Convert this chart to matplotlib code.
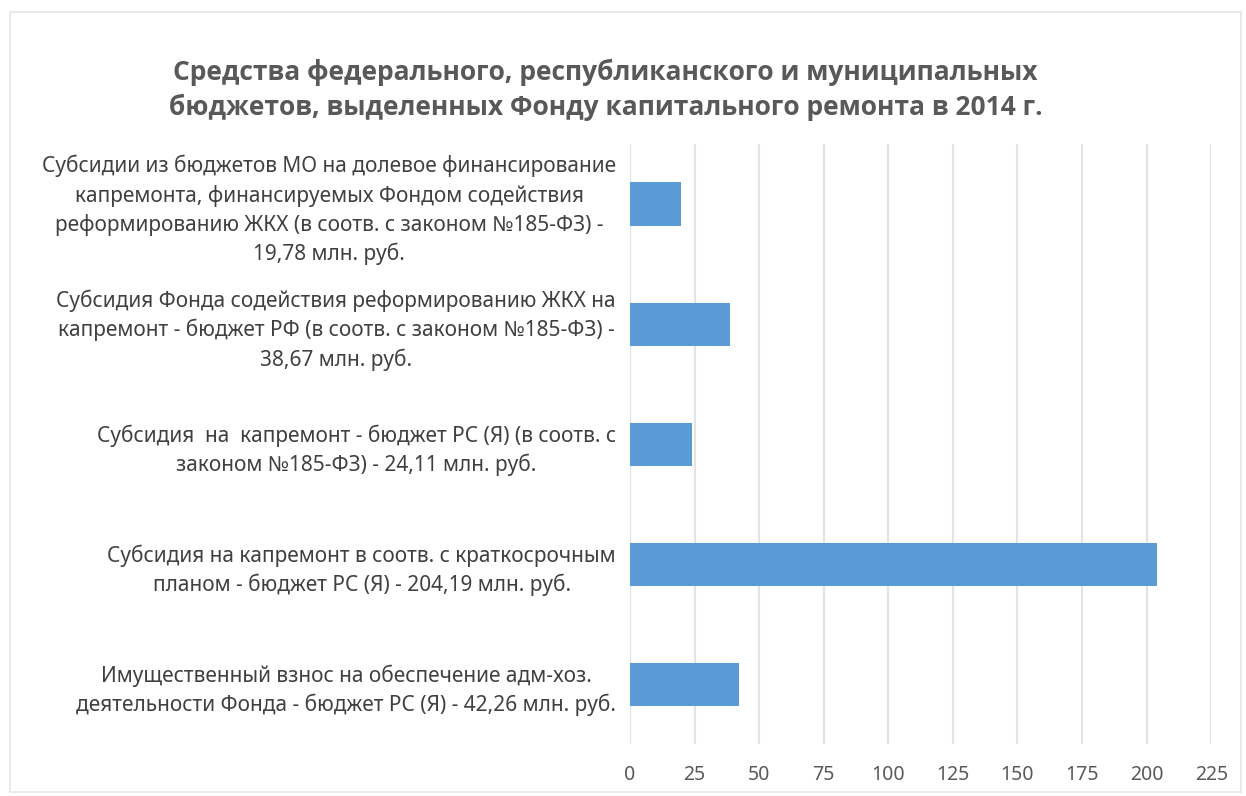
import matplotlib.pyplot as plt
from matplotlib.patches import Rectangle

plt.rcParams['font.family'] = ['Noto Sans', 'DejaVu Sans']

labels = [
    "Субсидии из бюджетов МО на долевое финансирование\n"
    "капремонта, финансируемых Фондом содействия\n"
    "реформированию ЖКХ (в соотв. с законом №185-ФЗ) -\n"
    "19,78 млн. руб.",
    "Субсидия Фонда содействия реформированию ЖКХ на\n"
    "капремонт - бюджет РФ (в соотв. с законом №185-ФЗ) -\n"
    "38,67 млн. руб.",
    "Субсидия  на  капремонт - бюджет РС (Я) (в соотв. с\n"
    "законом №185-ФЗ) - 24,11 млн. руб.",
    "Субсидия на капремонт в соотв. с краткосрочным\n"
    "планом - бюджет РС (Я) - 204,19 млн. руб.",
    "Имущественный взнос на обеспечение адм-хоз.\n"
    "деятельности Фонда - бюджет РС (Я) - 42,26 млн. руб.",
]
values = [19.78, 38.67, 24.11, 204.19, 42.26]
ticks = [0, 25, 50, 75, 100, 125, 150, 175, 200, 225]

title = ("Средства федерального, республиканского и муниципальных\n"
         "бюджетов, выделенных Фонду капитального ремонта в 2014 г.")

fig = plt.figure(figsize=(12.46, 7.96), dpi=100)
ax = fig.add_axes([0.5056, 0.065, 0.4665, 0.754])

pos = list(range(len(values)))
ax.barh(pos, values, height=0.36, color='#5B9BD5', zorder=3)
ax.set_ylim(len(values) - 0.5, -0.5)
ax.set_xlim(0, 225)
ax.set_xticks(ticks)
ax.set_yticks(pos)
ax.set_yticklabels(labels, multialignment='center', fontsize=15, color='#404040',
                   linespacing=1.42)
ax.tick_params(axis='y', length=0, pad=10)
ax.tick_params(axis='x', length=0, pad=15, labelsize=14, labelcolor='#595959')
ax.grid(axis='x', color='#E3E3E3', linewidth=1.5, zorder=0)
for s in ax.spines.values():
    s.set_visible(False)

fig.text(0.486, 0.887, title, ha='center', va='center', fontsize=19,
         family=['Open Sans', 'DejaVu Sans'], fontweight='bold', color='#595959',
         linespacing=1.4)

fig.patches.append(Rectangle((0.008, 0.005), 0.988, 0.98, transform=fig.transFigure,
                             fill=False, edgecolor='#E6E6E6', linewidth=1.2))

fig.savefig('out.png', dpi=100)
